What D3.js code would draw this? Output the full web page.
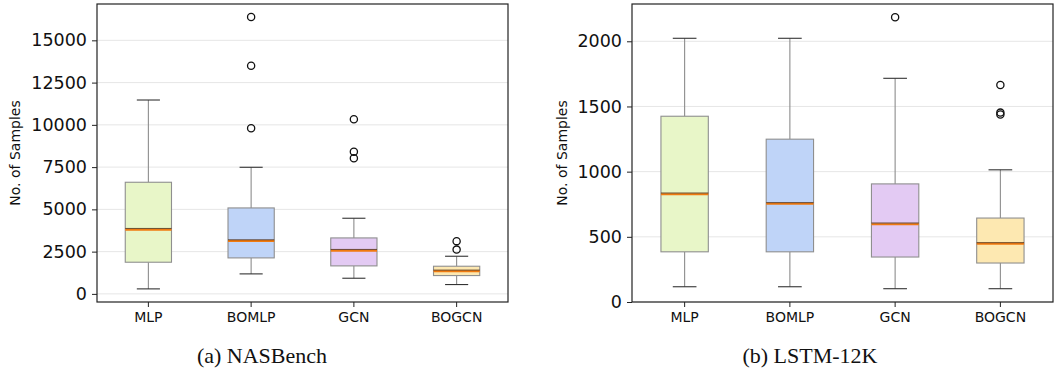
<!DOCTYPE html>
<html>
<head>
    <title>Samples per method</title>
    <script src="https://d3js.org/d3.v7.min.js"></script>
    <style>
        body { margin: 0; background: #fff; }
        svg { display: block; }
    </style>
</head>
<body>
    <svg width="1055" height="373"></svg>
    <script>
        const categories = ["MLP", "BOMLP", "GCN", "BOGCN"];

        // (a) NASBench
        const nasLow = [296, 1183, 926, 552];
        const nasQ1 = [1873, 2129, 1656, 1084];
        const nasMedian = [3824, 3153, 2583, 1360];
        const nasQ3 = [6604, 5085, 3311, 1636];
        const nasHigh = [11470, 7490, 4475, 2227];
        const nasOutliers = [[], [16378, 13500, 9797], [10330, 8416, 8022], [3120, 2620]];
        const nasTicks = [0, 2500, 5000, 7500, 10000, 12500, 15000];

        // (b) LSTM-12K
        const lstmLow = [117, 117, 102, 102];
        const lstmQ1 = [385, 385, 345, 299];
        const lstmMedian = [830, 756, 600, 449];
        const lstmQ3 = [1425, 1249, 906, 644];
        const lstmHigh = [2023, 2023, 1716, 1014];
        const lstmOutliers = [[], [], [2184], [1665, 1453, 1438]];
        const lstmTicks = [0, 500, 1000, 1500, 2000];

        const boxFill = ["#e8f6c8", "#bfd4f8", "#e3caf3", "#fde8b1"];

        const svg = d3.select("svg");

        function panel(cfg) {
            const g = svg.append("g");
            const x = d3.scaleBand().domain(categories).range([cfg.left, cfg.right]).padding(0);
            const y = d3.scaleLinear().domain(cfg.domain).range([cfg.bottom, cfg.top]);
            const bw = x.bandwidth() * 0.45;

            // grid
            g.selectAll(".grid").data(cfg.ticks).enter().append("line")
             .attr("x1", cfg.left).attr("x2", cfg.right)
             .attr("y1", d => y(d)).attr("y2", d => y(d))
             .attr("stroke", "#e6e6e6").attr("stroke-width", 1);

            const rows = categories.map((c, i) => ({
                c, i,
                low: cfg.low[i], q1: cfg.q1[i], med: cfg.med[i], q3: cfg.q3[i], high: cfg.high[i],
                out: cfg.out[i]
            }));

            const box = g.selectAll(".box").data(rows).enter().append("g");
            const cx = d => x(d.c) + x.bandwidth() / 2;

            // whiskers
            box.append("line").attr("x1", cx).attr("x2", cx)
               .attr("y1", d => y(d.q3)).attr("y2", d => y(d.high))
               .attr("stroke", "#8c8c8c").attr("stroke-width", 1.1);
            box.append("line").attr("x1", cx).attr("x2", cx)
               .attr("y1", d => y(d.q1)).attr("y2", d => y(d.low))
               .attr("stroke", "#8c8c8c").attr("stroke-width", 1.1);
            // caps
            box.selectAll(".cap").data(d => [d.low, d.high].map(v => ({ d, v }))).enter().append("line")
               .attr("x1", e => cx(e.d) - bw / 4).attr("x2", e => cx(e.d) + bw / 4)
               .attr("y1", e => y(e.v)).attr("y2", e => y(e.v))
               .attr("stroke", "#333").attr("stroke-width", 1.1);
            // box
            box.append("rect")
               .attr("x", d => cx(d) - bw / 2).attr("width", bw)
               .attr("y", d => y(d.q3)).attr("height", d => y(d.q1) - y(d.q3))
               .attr("fill", d => boxFill[d.i])
               .attr("stroke", "#8f8f8f").attr("stroke-width", 1.1);
            // median
            box.append("line")
               .attr("x1", d => cx(d) - bw / 2).attr("x2", d => cx(d) + bw / 2)
               .attr("y1", d => y(d.med) + 0.4).attr("y2", d => y(d.med) + 0.4)
               .attr("stroke", "#f07a10").attr("stroke-width", 2);
            box.append("line")
               .attr("x1", d => cx(d) - bw / 2).attr("x2", d => cx(d) + bw / 2)
               .attr("y1", d => y(d.med) - 0.8).attr("y2", d => y(d.med) - 0.8)
               .attr("stroke", "#4a2a10").attr("stroke-width", 0.8);
            // fliers
            box.selectAll(".flier").data(d => d.out.map(v => ({ d, v }))).enter().append("circle")
               .attr("cx", e => cx(e.d)).attr("cy", e => y(e.v)).attr("r", 3.6)
               .attr("fill", "none").attr("stroke", "#111").attr("stroke-width", 1.3);

            // axes
            const ya = g.append("g").attr("transform", `translate(${cfg.left},0)`)
                .call(d3.axisLeft(y).tickValues(cfg.ticks).tickFormat(d3.format("d"))
                      .tickSize(5).tickPadding(5).tickSizeOuter(0));
            ya.select(".domain").remove();
            ya.selectAll("text").attr("font-family", "DejaVu Sans").attr("font-size", 17.5).attr("fill", "#111");
            ya.selectAll("line").attr("stroke", "#222");

            const xa = g.append("g").attr("transform", `translate(0,${cfg.bottom})`)
                .call(d3.axisBottom(x).tickSize(5).tickPadding(5).tickSizeOuter(0));
            xa.select(".domain").remove();
            xa.selectAll("text").attr("font-family", "DejaVu Sans").attr("font-size", 14).attr("fill", "#111");
            xa.selectAll("line").attr("stroke", "#222");

            // frame
            g.append("rect").attr("x", cfg.left).attr("y", cfg.top)
             .attr("width", cfg.right - cfg.left).attr("height", cfg.bottom - cfg.top)
             .attr("fill", "none").attr("stroke", "#222").attr("stroke-width", 1.2);

            g.append("text")
             .attr("transform", `translate(${cfg.labelX},${(cfg.top + cfg.bottom) / 2}) rotate(-90)`)
             .attr("text-anchor", "middle").attr("dy", "0.35em")
             .attr("font-family", "DejaVu Sans").attr("font-size", 14).attr("fill", "#111")
             .text("No. of Samples");

            g.append("text")
             .attr("x", cfg.captionX).attr("y", 363)
             .attr("text-anchor", "middle")
             .attr("font-family", "Liberation Serif").attr("font-size", 22).attr("fill", "#111")
             .text(cfg.caption);
        }

        panel({
            left: 97, right: 508, top: 4, bottom: 302, domain: [-480, 17150],
            low: nasLow, q1: nasQ1, med: nasMedian, q3: nasQ3, high: nasHigh, out: nasOutliers,
            ticks: nasTicks, labelX: 15, captionX: 262, caption: "(a) NASBench"
        });
        panel({
            left: 632, right: 1053, top: 4, bottom: 302, domain: [0, 2286],
            low: lstmLow, q1: lstmQ1, med: lstmMedian, q3: lstmQ3, high: lstmHigh, out: lstmOutliers,
            ticks: lstmTicks, labelX: 562, captionX: 810, caption: "(b) LSTM-12K"
        });
    </script>
</body>
</html>
